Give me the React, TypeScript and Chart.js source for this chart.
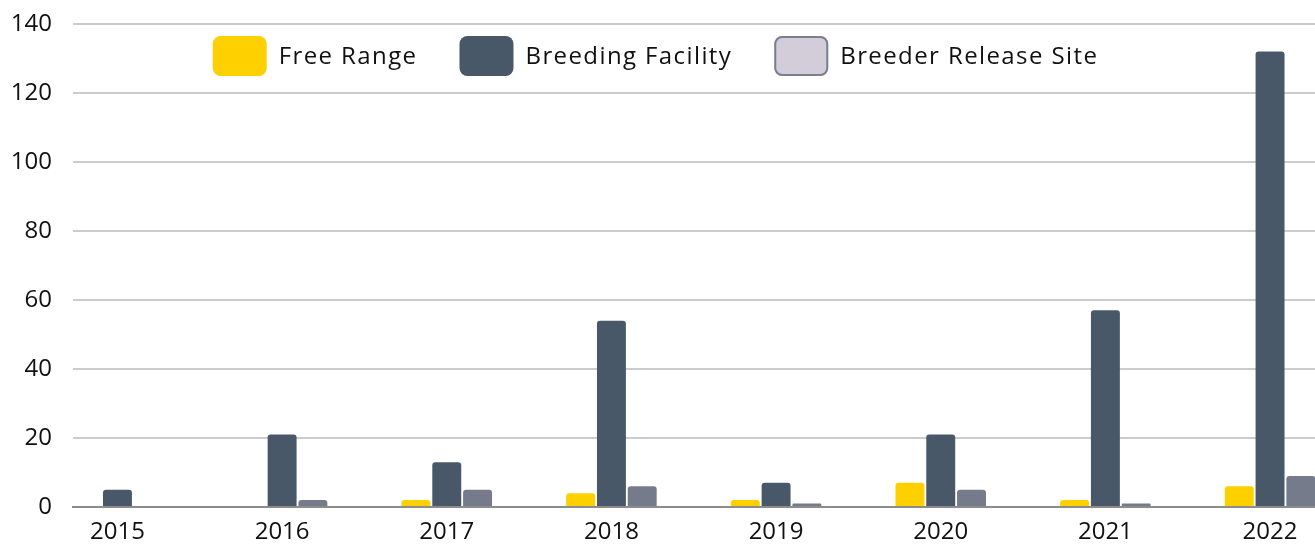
import React, { useEffect, useRef } from 'react';
import { Chart, registerables } from 'chart.js';

Chart.register(...registerables);

// ---- data ----
const years = [2015, 2016, 2017, 2018, 2019, 2020, 2021, 2022];
const freeRange = [0, 0, 2, 4, 2, 7, 2, 6];
const breedingFacility = [5, 21, 13, 54, 7, 21, 57, 132];
const breederReleaseSite = [0, 2, 5, 6, 1, 5, 1, 9];
const yTicks = [0, 20, 40, 60, 80, 100, 120, 140];
const seriesNames = ['Free Range', 'Breeding Facility', 'Breeder Release Site'];

// ---- styles ----
const FONT = '"Open Sans", sans-serif';
const barColors = ['#FFD000', '#485869', '#767B8B'];
const legendFill = ['#FFD000', '#485869', '#D3CDD9'];
const legendStroke: (string | null)[] = [null, null, '#7B7F90'];

const legendPlugin = {
  id: 'customLegend',
  afterDraw(chart: any) {
    const ctx = chart.ctx as CanvasRenderingContext2D;
    ctx.save();
    ctx.font = `500 24px ${FONT}`;
    (ctx as any).letterSpacing = '1.4px';
    const boxW = 54, boxH = 40, gapText = 12, gapItem = 42, top = 36;
    const widths = seriesNames.map((n) => boxW + gapText + ctx.measureText(n).width);
    const total = widths.reduce((a, b) => a + b, 0) + gapItem * (widths.length - 1);
    let x = chart.width / 2 - 2 - total / 2;
    seriesNames.forEach((name, i) => {
      ctx.beginPath();
      const r = 8;
      if ((ctx as any).roundRect) {
        (ctx as any).roundRect(x, top, boxW, boxH, r);
      } else {
        ctx.rect(x, top, boxW, boxH);
      }
      ctx.fillStyle = legendFill[i];
      ctx.fill();
      if (legendStroke[i]) {
        ctx.strokeStyle = legendStroke[i] as string;
        ctx.lineWidth = 2;
        ctx.beginPath();
        if ((ctx as any).roundRect) {
          (ctx as any).roundRect(x + 1, top + 1, boxW - 2, boxH - 2, r - 1);
        } else {
          ctx.rect(x + 1, top + 1, boxW - 2, boxH - 2);
        }
        ctx.stroke();
      }
      ctx.fillStyle = '#111111';
      ctx.textBaseline = 'middle';
      ctx.textAlign = 'left';
      ctx.fillText(name, x + boxW + gapText, top + boxH / 2 + 1);
      x += widths[i] + gapItem;
    });
    ctx.restore();
  },
};

export default function App() {
  const ref = useRef<HTMLCanvasElement | null>(null);

  useEffect(() => {
    if (!ref.current) return;
    const series = [freeRange, breedingFacility, breederReleaseSite];
    const chart = new Chart(ref.current, {
      type: 'bar',
      data: {
        datasets: series.map((vals, si) => ({
          label: seriesNames[si],
          data: years.map((x, i) => ({ x, y: vals[i] })),
          backgroundColor: barColors[si],
          borderRadius: 3,
          borderSkipped: 'bottom',
          categoryPercentage: 0.561,
          barPercentage: 0.94,
        })),
      },
      options: {
        animation: false,
        responsive: true,
        maintainAspectRatio: false,
        layout: { padding: { top: 24, left: 0, right: 0, bottom: 0 } },
        plugins: {
          legend: { display: false },
          tooltip: { enabled: false },
        },
        scales: {
          x: {
            type: 'linear',
            offset: false,
            min: 2014.73,
            max: 2022.273,
            afterBuildTicks: (scale: any) => {
              scale.ticks = years.map((v) => ({ value: v }));
            },
            afterFit: (scale: any) => {
              scale.height = 37;
            },
            ticks: {
              callback: (v: any) => String(v),
              font: { family: FONT, size: 24, weight: '500' },
              color: '#111111',
              padding: 11,
              maxRotation: 0,
              autoSkip: false,
            },
            grid: { display: false, drawTicks: false, offset: false },
            border: { display: true, color: '#8C8C8C', width: 2 },
          },
          y: {
            min: 0,
            max: 140,
            afterBuildTicks: (scale: any) => {
              scale.ticks = yTicks.map((v) => ({ value: v }));
            },
            afterFit: (scale: any) => {
              scale.width = 73;
              scale.paddingTop = 14;
              scale.paddingBottom = 14;
            },
            ticks: {
              font: { family: FONT, size: 24, weight: '500' },
              color: '#111111',
              padding: 21,
            },
            grid: {
              drawTicks: false,
              lineWidth: 2,
              color: (c: any) => (c.tick && c.tick.value === 0 ? '#8C8C8C' : '#CCCCCC'),
            },
            border: { display: false },
          },
        },
      },
      plugins: [legendPlugin],
    } as any);
    return () => chart.destroy();
  }, []);

  return (
    <div style={{ position: 'fixed', left: 0, top: 0, width: 1315, height: 544 }}>
      <canvas ref={ref} />
    </div>
  );
}
